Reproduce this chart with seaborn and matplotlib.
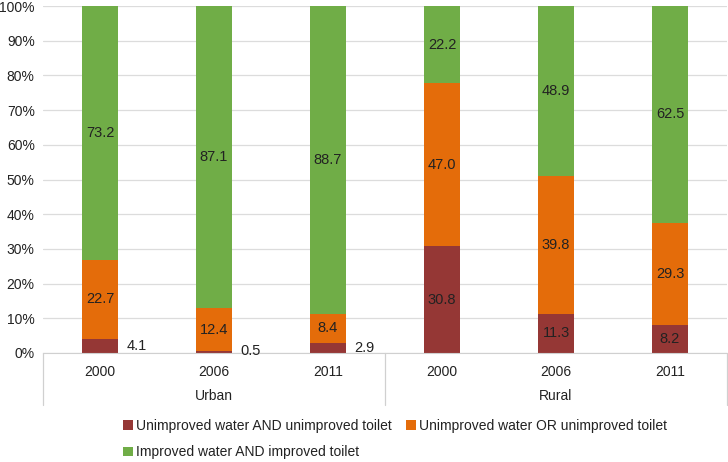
import matplotlib
matplotlib.use('Agg')
import matplotlib.pyplot as plt
import pandas as pd
import seaborn as sns
from matplotlib.patches import Patch

# data
groups = ['Urban', 'Urban', 'Urban', 'Rural', 'Rural', 'Rural']
years = ['2000', '2006', '2011', '2000', '2006', '2011']
both_bad = [4.1, 0.5, 2.9, 30.8, 11.3, 8.2]
one_bad = [22.7, 12.4, 8.4, 47.0, 39.8, 29.3]
both_good = [73.2, 87.1, 88.7, 22.2, 48.9, 62.5]
series_names = ['Unimproved water AND unimproved toilet',
                'Unimproved water OR unimproved toilet',
                'Improved water AND improved toilet']
colors = ['#953735', '#E46C0A', '#70AD47']

df = pd.DataFrame({'group': groups, 'year': years,
                   'bad2': both_bad, 'bad1': one_bad, 'good': both_good})
df['key'] = df['group'] + ' ' + df['year']
df['top1'] = df['bad2'] + df['bad1']
df['top2'] = df['top1'] + df['good']

sns.set_style('white')
plt.rcParams['font.family'] = ['Liberation Sans', 'DejaVu Sans']
plt.rcParams['font.size'] = 10

fig = plt.figure(figsize=(7.28, 4.62), dpi=100)
ax = fig.add_axes([43 / 728, 1 - 353 / 462, 684 / 728, 347 / 462])

order = list(df['key'])
# cumulative bars drawn back to front (seaborn stacking)
for col, c in [('top2', colors[2]), ('top1', colors[1]), ('bad2', colors[0])]:
    sns.barplot(data=df, x='key', y=col, order=order, color=c, width=0.31,
                saturation=1, linewidth=0, ax=ax, zorder=2)

ax.set_ylim(0, 100)
ax.set_xlim(-0.5, 5.5)
ax.set_yticks(range(0, 101, 10))
ax.set_yticklabels([f'{v}%' for v in range(0, 101, 10)], color='#222222')
ax.yaxis.grid(True, color='#dcdcdc', linewidth=0.9, zorder=0)
ax.set_axisbelow(True)
for s in ['left', 'right', 'top']:
    ax.spines[s].set_visible(False)
ax.spines['bottom'].set_color('#d0d0d0')
ax.tick_params(axis='y', length=0, pad=6)
ax.tick_params(axis='x', length=0, pad=9)
ax.set_xticks(range(6))
ax.set_xticklabels(years, color='#222222')
ax.set_xlabel('')
ax.set_ylabel('')

# value labels
for i, row in df.iterrows():
    for lo, val in [(0, row['bad2']), (row['bad2'], row['bad1']),
                    (row['top1'], row['good'])]:
        if val >= 5:
            ax.text(i, lo + val / 2, f'{val:.1f}', ha='center', va='center',
                    color='#222222', fontsize=10.5, zorder=5)
        else:
            ax.text(i + 0.23, lo + max(val, 1.2) / 2, f'{val:.1f}',
                    ha='left', va='center', color='#222222', fontsize=10.5,
                    zorder=5)

# two-level category axis
tr = ax.get_xaxis_transform()
for xs in [-0.5, 2.5, 5.5]:
    ax.plot([xs, xs], [0, -0.15], transform=tr, color='#d0d0d0',
            linewidth=0.9, clip_on=False)
ax.text(1, -0.125, 'Urban', transform=tr, ha='center', va='center',
        color='#222222', fontsize=10)
ax.text(4, -0.125, 'Rural', transform=tr, ha='center', va='center',
        color='#222222', fontsize=10)

# legend filled column-wise, so order handles to read row by row
handles = [Patch(facecolor=c, edgecolor='none') for c in colors]
idx = [0, 2, 1]
fig.legend([handles[k] for k in idx], [series_names[k] for k in idx],
           loc='center left', bbox_to_anchor=(116 / 728, 1 - 439 / 462),
           ncol=2, frameon=False, handlelength=0.7, handleheight=0.7,
           handletextpad=0.25, columnspacing=1.0, labelspacing=0.9,
           fontsize=10, labelcolor='#222222', borderpad=0)

fig.savefig('out.png', dpi=100)
